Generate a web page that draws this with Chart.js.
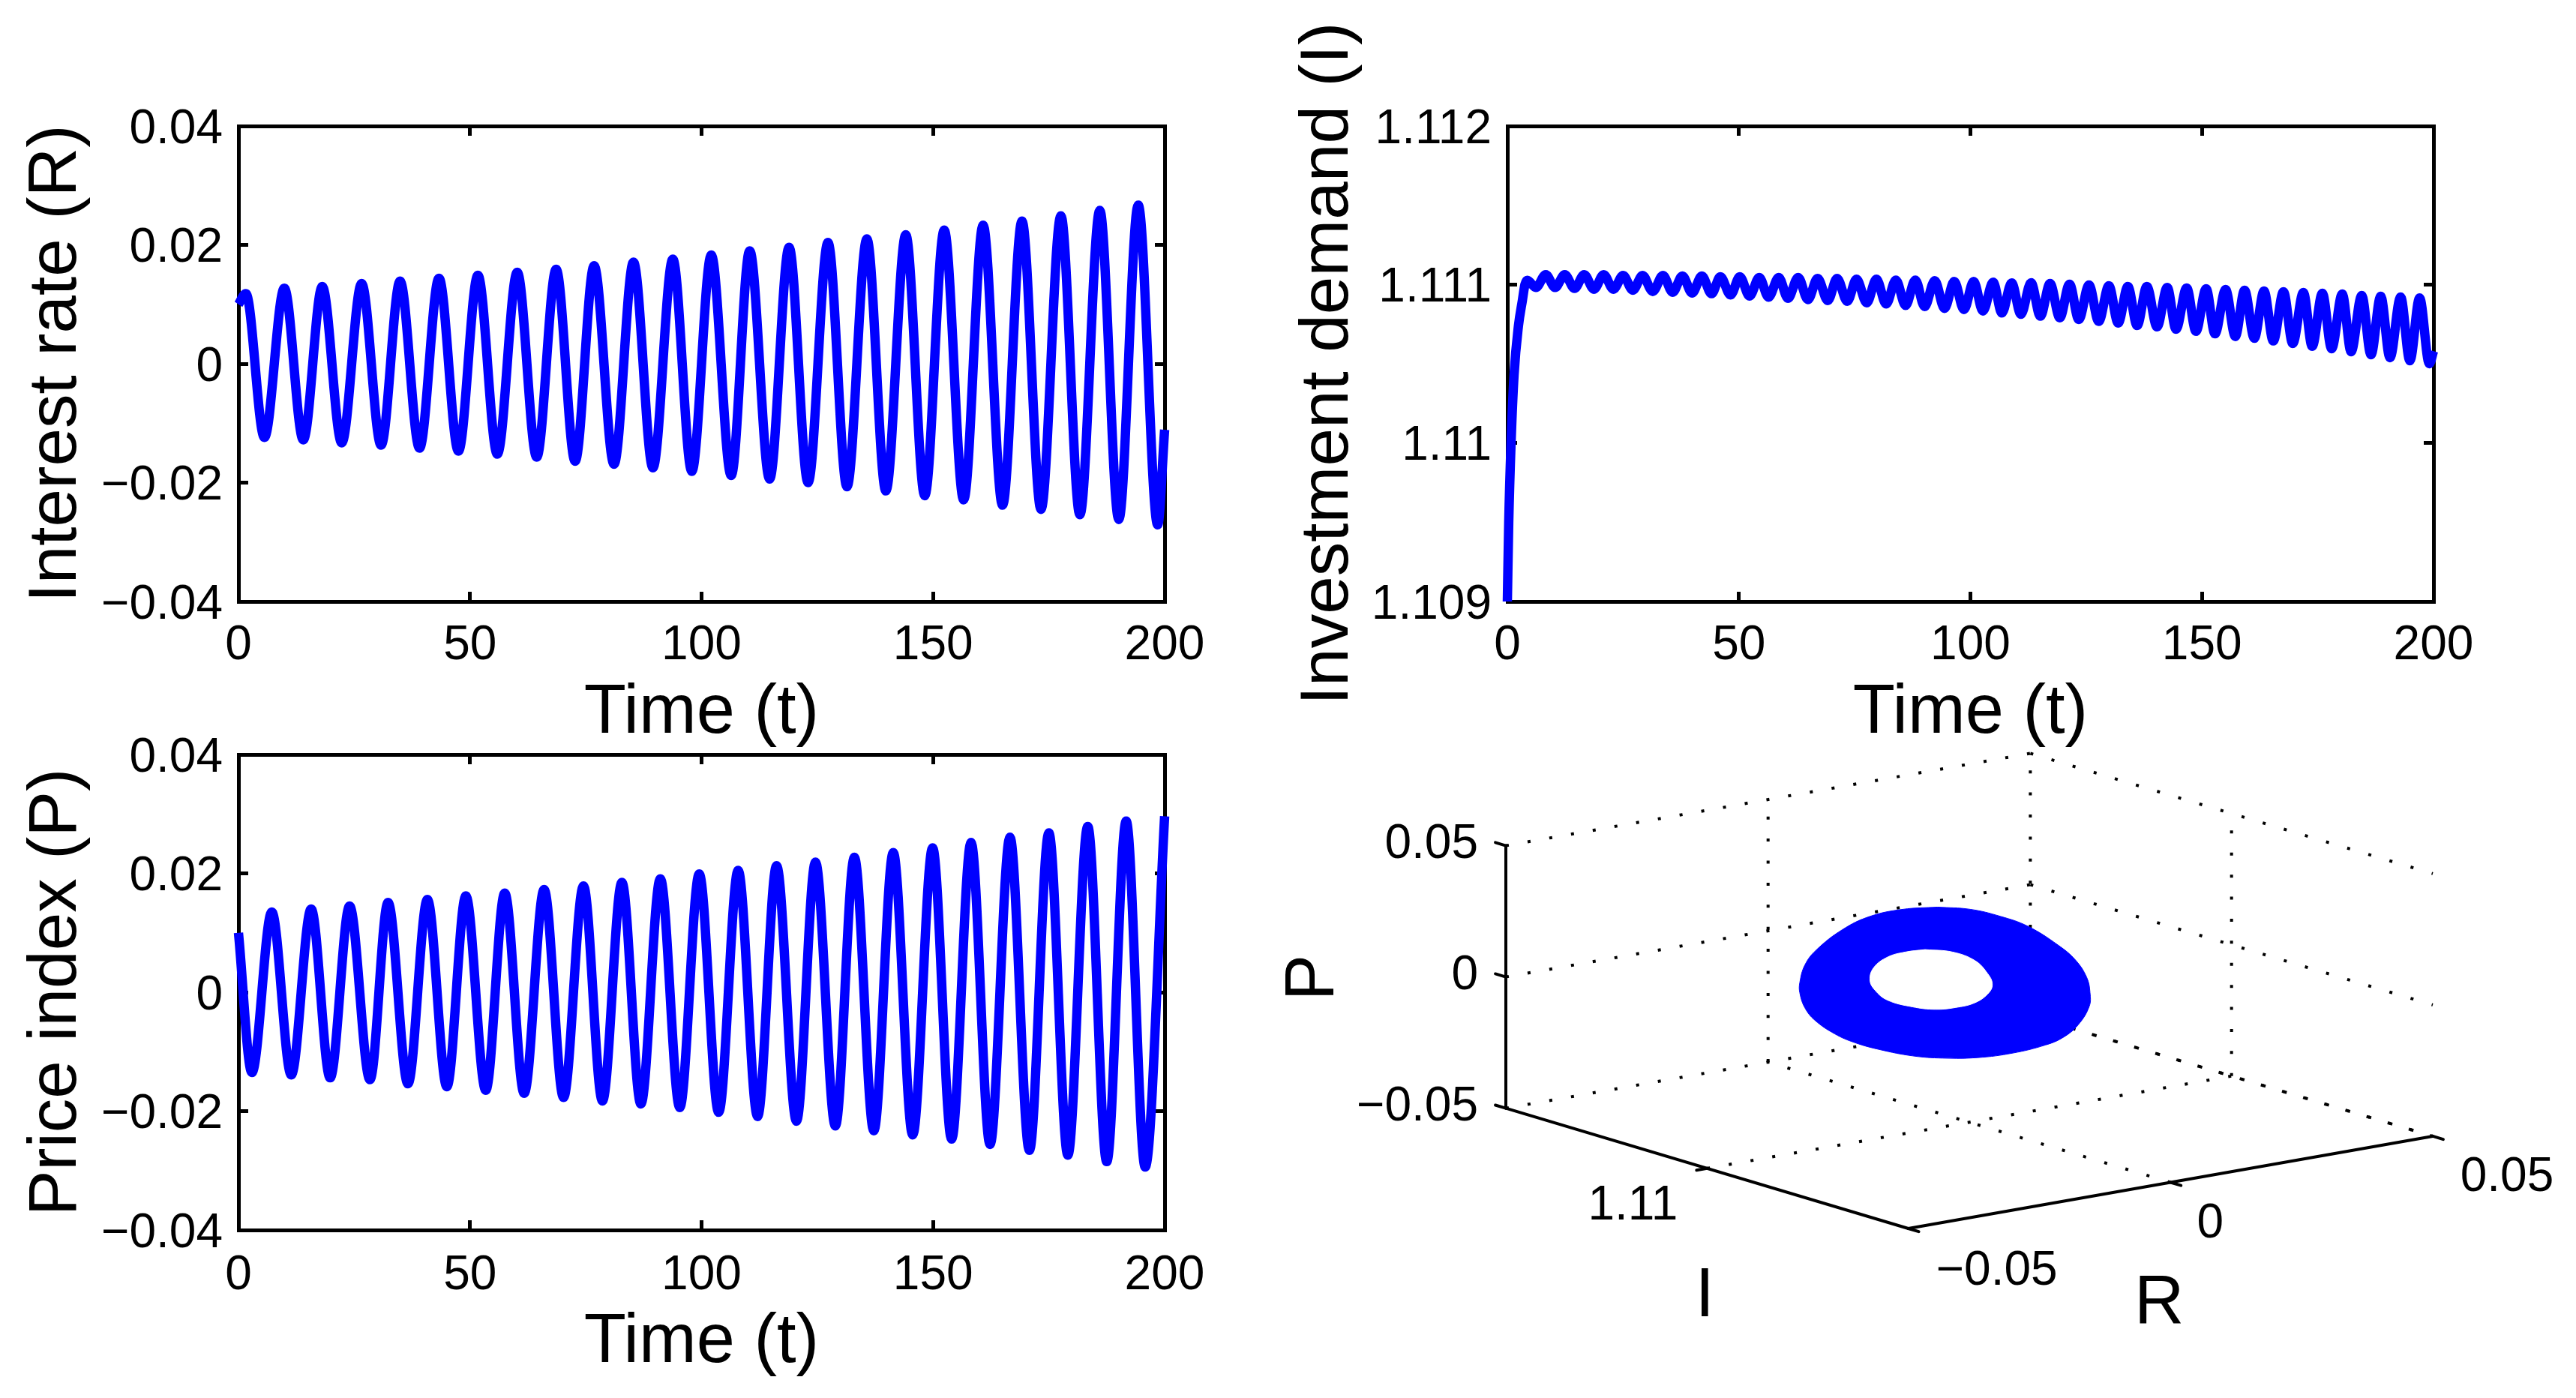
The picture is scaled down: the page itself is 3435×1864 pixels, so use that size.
<!DOCTYPE html>
<html>
<head>
<meta charset="utf-8">
<title>Macroeconomic model dynamics</title>
<script src="https://cdn.jsdelivr.net/npm/chart.js@4/dist/chart.umd.min.js"></script>
<style>
  html, body { margin: 0; padding: 0; background: #fff; }
  #page { position: relative; width: 3435px; height: 1864px; overflow: hidden; background: #fff; }
  #page canvas { position: absolute; left: 0; top: 0; }
</style>
</head>
<body>
<div id="page">
  <canvas id="rateChart" width="3435" height="1864"></canvas>
  <canvas id="investChart" width="3435" height="1864"></canvas>
  <canvas id="priceChart" width="3435" height="1864"></canvas>
  <canvas id="orbitChart" width="3435" height="1864"></canvas>
</div>
<script>
// Turning points of the interest rate R(t)
const rateTimes = [0,1.6,5.6,9.9,14.0,18.1,22.3,26.6,30.8,34.9,39.1,43.3,47.5,51.7,55.9,60.2,64.4,68.6,72.7,76.8,81.1,85.3,89.5,93.8,97.9,102.1,106.4,110.4,114.7,118.9,123.0,127.3,131.4,135.7,139.8,144.1,148.2,152.4,156.6,160.8,165.0,169.2,173.3,177.6,181.7,186.0,190.1,194.3,198.5,200];
const rateValues = [0.0100,0.0118,-0.0124,0.0127,-0.0128,0.0130,-0.0133,0.0135,-0.0137,0.0139,-0.0142,0.0144,-0.0147,0.0149,-0.0152,0.0154,-0.0157,0.0159,-0.0164,0.0165,-0.0169,0.0171,-0.0175,0.0176,-0.0181,0.0183,-0.0188,0.0190,-0.0194,0.0196,-0.0200,0.0204,-0.0207,0.0210,-0.0214,0.0217,-0.0222,0.0225,-0.0229,0.0233,-0.0238,0.0240,-0.0245,0.0249,-0.0254,0.0258,-0.0262,0.0267,-0.0271,-0.0111];

// Turning points of the price index P(t)
const priceTimes = [0,2.9,7.2,11.4,15.7,19.8,24.0,28.4,32.3,36.6,40.8,45.0,49.1,53.4,57.5,61.7,66.0,70.2,74.5,78.6,82.8,86.9,91.1,95.3,99.5,103.7,107.9,112.1,116.2,120.5,124.6,128.9,133.0,137.2,141.4,145.6,149.9,154.0,158.2,162.3,166.6,170.8,175.0,179.1,183.4,187.5,191.7,195.8,200];
const priceValues = [0.0100,-0.0135,0.0135,-0.0139,0.0140,-0.0144,0.0145,-0.0147,0.0151,-0.0154,0.0156,-0.0159,0.0162,-0.0165,0.0167,-0.0170,0.0173,-0.0177,0.0179,-0.0183,0.0185,-0.0188,0.0191,-0.0194,0.0199,-0.0202,0.0205,-0.0209,0.0213,-0.0217,0.0219,-0.0225,0.0227,-0.0233,0.0235,-0.0240,0.0243,-0.0247,0.0252,-0.0256,0.0261,-0.0266,0.0268,-0.0274,0.0279,-0.0285,0.0288,-0.0294,0.0296];

// Initial rise and turning points of the investment demand I(t)
const investTimes = [0,0.3,0.8,1.45,2.4,3.25,3.8,4.3,6.15,8.3,10.3,12.4,14.5,16.6,18.7,20.8,22.9,25.0,27.1,29.2,31.4,33.6,35.7,37.8,39.9,42.0,44.1,46.0,48.2,50.2,52.3,54.4,56.4,58.6,60.6,62.8,64.9,67.0,69.2,71.2,73.4,75.4,77.6,79.7,81.8,83.9,86.0,88.1,90.1,92.3,94.4,96.5,98.6,100.7,102.7,104.9,106.8,108.9,110.9,113.1,115.1,117.2,119.3,121.4,123.4,125.6,127.7,129.9,131.9,134.0,136.0,138.1,140.3,142.5,144.4,146.7,148.7,150.9,152.8,155.1,157.2,159.2,161.3,163.4,165.4,167.6,169.6,171.9,173.8,176.0,178.0,180.3,182.2,184.5,186.5,188.6,190.6,192.9,194.9,197.0,199.1,200];
const investValues = [1.10900,1.10950,1.11000,1.11043,1.11074,1.11090,1.11100,1.111027,1.110981,1.111062,1.110981,1.111062,1.110975,1.111062,1.110970,1.111062,1.110970,1.111057,1.110964,1.111057,1.110956,1.111057,1.110951,1.111054,1.110946,1.111054,1.110942,1.111049,1.110934,1.111049,1.110927,1.111044,1.110920,1.111044,1.110913,1.111044,1.110905,1.111038,1.110899,1.111038,1.110894,1.111033,1.110885,1.111033,1.110877,1.111028,1.110868,1.111028,1.110861,1.111024,1.110849,1.111019,1.110842,1.111019,1.110833,1.111014,1.110820,1.111010,1.110812,1.111011,1.110800,1.111006,1.110790,1.111002,1.110779,1.110997,1.110767,1.110992,1.110757,1.110987,1.110741,1.110987,1.110733,1.110981,1.110718,1.110978,1.110705,1.110973,1.110689,1.110968,1.110672,1.110964,1.110661,1.110959,1.110644,1.110954,1.110628,1.110950,1.110610,1.110945,1.110595,1.110940,1.110576,1.110931,1.110557,1.110926,1.110538,1.110921,1.110519,1.110915,1.110500,1.11058];

// Axis ticks of the time plots
const timeTicks = [0,50,100,150,200];
const timeTickLabels = ['0','50','100','150','200'];
const deviationTicks = [-0.04,-0.02,0,0.02,0.04];
const deviationTickLabels = ['\u22120.04','\u22120.02','0','0.02','0.04'];
const investTicks = [1.109,1.11,1.111,1.112];
const investTickLabels = ['1.109','1.11','1.111','1.112'];

// Edges of the attractor band in the (R, I, P) phase space
const orbitI = 1.111;
const bandOuterR = [-0.00124,0.00497,0.0107,0.01596,0.0217,0.02504,0.02719,0.02781,0.02767,0.02552,0.02265,0.01931,0.01309,0.0064,-0.00029,-0.00602,-0.01223,-0.01701,-0.02084,-0.02466,-0.02657,-0.02753,-0.02753,-0.02657,-0.02442,-0.0194,-0.01415,-0.00793,-0.00124];
const bandOuterP = [0.0295,0.02648,0.0218,0.01616,0.0070,0.0001,-0.0073,-0.01323,-0.01842,-0.02481,-0.02857,-0.03025,-0.03113,-0.0305,-0.02835,-0.02548,-0.02093,-0.01659,-0.01191,-0.00534,0.00009,0.00614,0.00995,0.01628,0.02124,0.0273,0.0305,0.031,0.0295];
const bandInnerR = [-0.00363,0.00162,0.00593,0.00832,0.00918,0.00855,0.00593,0.0021,-0.00172,-0.00602,-0.0108,-0.01319,-0.01415,-0.01343,-0.0108,-0.00746,-0.00363];
const bandInnerP = [0.01416,0.01137,0.00653,0.00074,-0.00337,-0.00649,-0.00938,-0.00994,-0.00927,-0.00681,-0.00257,0.00207,0.00622,0.01073,0.01381,0.01455,0.01416];

// Limits and ticks of the 3-D axes
const limitsR = [-0.05,0.05];
const limitsI = [1.102,1.118];
const limitsP = [-0.05,0.05];
const ticksR = [-0.05,0,0.05];
const ticksI = [1.11];
const ticksP = [-0.05,0,0.05];
const tickLabelsR = ['\u22120.05','0','0.05'];
const tickLabelsI = ['1.11'];
const tickLabelsP = ['\u22120.05','0','0.05'];

const PAGE_W = 3435, PAGE_H = 1864;
const BLUE = '#0000ff';
const FONT = '"Liberation Sans", Arial, sans-serif';
const TICK_SIZE = 64, TITLE_SIZE = 92, Y_TITLE_SIZE = 91;

const pairUp = (xs, ys) => xs.map((x, i) => ({ x, y: ys[i] }));

// One boxed time plot. The frame and inward tick marks come from four scales.
function timePlot(id, box, times, values, yTicks, yLabels, yTitle) {
  const setTicks = list => scale => { scale.ticks = list.map(value => ({ value })); };
  const grid = { drawOnChartArea: false, drawTicks: true, tickLength: -13, tickWidth: 5, tickColor: '#000' };
  const border = { display: true, width: 5, color: '#000' };
  const labelFont = { family: FONT, size: TICK_SIZE };
  const mirror = (position, min, max, list) => ({
    type: 'linear', position, min, max,
    afterBuildTicks: setTicks(list),
    afterFit: s => { if (s.isHorizontal()) s.height = 0; else s.width = 0; },
    grid, border, ticks: { display: false, autoSkip: false }
  });
  new Chart(document.getElementById(id), {
    type: 'scatter',
    data: { datasets: [{
      data: pairUp(times, values), showLine: true, pointRadius: 0,
      borderColor: BLUE, borderWidth: 12.5, borderCapStyle: 'butt', borderJoinStyle: 'round',
      cubicInterpolationMode: 'monotone', clip: false, fill: false
    }] },
    options: {
      responsive: false, animation: false, events: [],
      layout: { padding: { left: 0, top: box.top, right: PAGE_W - box.right, bottom: 0 } },
      plugins: { legend: { display: false }, tooltip: { enabled: false } },
      scales: {
        x: {
          type: 'linear', position: 'bottom', min: 0, max: 200,
          afterBuildTicks: setTicks(timeTicks),
          afterFit: s => { s.height = PAGE_H - box.bottom; },
          grid, border,
          ticks: { autoSkip: false, maxRotation: 0, padding: box.xTickPad, color: '#000', font: labelFont,
                   callback: (v, i) => timeTickLabels[i] },
          title: { display: true, text: 'Time (t)', color: '#000',
                   font: { family: FONT, size: TITLE_SIZE, lineHeight: 1 },
                   padding: { top: 0, bottom: PAGE_H - box.xTitleY - TITLE_SIZE / 2 } }
        },
        y: {
          type: 'linear', position: 'left', min: yTicks[0], max: yTicks[yTicks.length - 1],
          afterBuildTicks: setTicks(yTicks),
          afterFit: s => { s.width = box.left; },
          grid, border,
          ticks: { autoSkip: false, padding: 34, labelOffset: 5, color: '#000', font: labelFont,
                   callback: (v, i) => yLabels[i] },
          title: { display: true, text: yTitle, color: '#000',
                   font: { family: FONT, size: Y_TITLE_SIZE, lineHeight: 1 },
                   padding: { top: box.yTitleX - Y_TITLE_SIZE / 2, bottom: 0 } }
        },
        xTop: mirror('top', 0, 200, timeTicks),
        yRight: mirror('right', yTicks[0], yTicks[yTicks.length - 1], yTicks)
      }
    }
  });
}

timePlot('rateChart',
  { left: 318, right: 1553, top: 168, bottom: 802, xTickPad: 34, xTitleY: 952, yTitleX: 76 },
  rateTimes, rateValues, deviationTicks, deviationTickLabels, 'Interest rate (R)');
timePlot('investChart',
  { left: 2010, right: 3245, top: 168, bottom: 802, xTickPad: 34, xTitleY: 952, yTitleX: 1772 },
  investTimes, investValues, investTicks, investTickLabels, 'Investment demand (I)');
timePlot('priceChart',
  { left: 318, right: 1553, top: 1006, bottom: 1640, xTickPad: 36, xTitleY: 1791, yTitleX: 76 },
  priceTimes, priceValues, deviationTicks, deviationTickLabels, 'Price index (P)');

// Default 3-D view: data are normalised to the unit cube, then rotated.
const AZ = -37.5 * Math.PI / 180, EL = 30 * Math.PI / 180;
const unit = (v, lim) => (v - lim[0]) / (lim[1] - lim[0]);
function project(uR, uI, uP) {
  return {
    x: Math.cos(AZ) * uR + Math.sin(AZ) * uI,
    y: Math.sin(EL) * (-Math.sin(AZ) * uR + Math.cos(AZ) * uI) + Math.cos(EL) * uP
  };
}
const dataPoint = (R, I, P) => project(unit(R, limitsR), unit(I, limitsI), unit(P, limitsP));
const band = (Rs, Ps) => Rs.map((R, i) => dataPoint(R, orbitI, Ps[i]));

const dotted = (a, b) => ({
  data: [project(...a), project(...b)], showLine: true, pointRadius: 0, clip: false,
  borderColor: '#000', borderWidth: 4, borderDash: [4, 25.4], order: 3, fill: false
});
const solid = (a, b) => ({
  data: [project(...a), project(...b)], showLine: true, pointRadius: 0, clip: false,
  borderColor: '#000', borderWidth: 4, borderCapStyle: 'round', order: 0, fill: false
});

const datasets3d = [];
// Grid on the two back walls and the floor
ticksP.forEach(P => {
  const u = unit(P, limitsP);
  datasets3d.push(dotted([0, 1, u], [1, 1, u]), dotted([1, 1, u], [1, 0, u]));
});
ticksR.slice(1).forEach(R => {
  const u = unit(R, limitsR);
  datasets3d.push(dotted([u, 0, 0], [u, 1, 0]));
  datasets3d.push(dotted([u, 1, 0], [u, 1, 1]));
});
ticksI.forEach(I => {
  const u = unit(I, limitsI);
  datasets3d.push(dotted([0, u, 0], [1, u, 0]), dotted([1, u, 0], [1, u, 1]));
});
// Filled band with its central hole
datasets3d.push({
  data: band(bandOuterR, bandOuterP), showLine: true, pointRadius: 0, tension: 0.4,
  borderColor: BLUE, borderWidth: 1, backgroundColor: BLUE, fill: 'shape', order: 2
});
datasets3d.push({
  data: band(bandInnerR, bandInnerP), showLine: true, pointRadius: 0, tension: 0.4,
  borderColor: '#fff', borderWidth: 1, backgroundColor: '#fff', fill: 'shape', order: 1
});
// Solid axes and their tick marks
datasets3d.push(solid([0, 1, 0], [0, 1, 1]), solid([0, 1, 0], [0, 0, 0]), solid([0, 0, 0], [1, 0, 0]));
ticksP.forEach(P => {
  const u = unit(P, limitsP);
  datasets3d.push(solid([0, 1, u], [0, 1.026, u]));
});
ticksR.forEach(R => {
  const u = unit(R, limitsR);
  datasets3d.push(solid([u, 0, 0], [u, -0.026, 0]));
});
ticksI.forEach(I => {
  const u = unit(I, limitsI);
  datasets3d.push(solid([0, u, 0], [-0.02, u, 0]));
});

// Tick labels and axis letters sit at fixed offsets from the projected axes.
const axisText3d = {
  id: 'axisText3d',
  afterDraw(chart) {
    const { ctx, scales } = chart;
    const at = (u, dx, dy) => {
      const p = project(...u);
      return [scales.x.getPixelForValue(p.x) + dx, scales.y.getPixelForValue(p.y) + dy];
    };
    const write = (text, pos, size, align, rotate) => {
      ctx.save();
      ctx.fillStyle = '#000';
      ctx.font = size + 'px ' + FONT;
      ctx.textAlign = align;
      ctx.textBaseline = 'middle';
      ctx.translate(pos[0], pos[1]);
      if (rotate) ctx.rotate(-Math.PI / 2);
      ctx.fillText(text, 0, 0);
      ctx.restore();
    };
    ticksP.forEach((P, i) => write(tickLabelsP[i], at([0, 1, unit(P, limitsP)], -37, -1), TICK_SIZE, 'right'));
    const rOffsets = [[118, 57], [53, 56], [99, 55]];
    ticksR.forEach((R, i) => write(tickLabelsR[i], at([unit(R, limitsR), 0, 0], ...rOffsets[i]), TICK_SIZE, 'center'));
    ticksI.forEach((I, i) => write(tickLabelsI[i], at([0, unit(I, limitsI), 0], -99, 51), TICK_SIZE, 'center'));
    write('P', at([0, 1, 0.5], -255, 1), TITLE_SIZE, 'center', true);
    write('I', at([0, 0.5, 0], -3, 172), TITLE_SIZE, 'center');
    write('R', at([0.5, 0, 0], -15, 163), TITLE_SIZE, 'center');
  }
};

new Chart(document.getElementById('orbitChart'), {
  type: 'scatter',
  data: { datasets: datasets3d },
  plugins: [axisText3d],
  options: {
    responsive: false, animation: false, events: [],
    layout: { padding: { left: 2008, top: 1004.5, right: PAGE_W - 3244, bottom: PAGE_H - 1638 } },
    plugins: { legend: { display: false }, tooltip: { enabled: false } },
    scales: {
      x: { type: 'linear', display: false, min: project(0, 1, 0).x, max: project(1, 0, 0).x },
      y: { type: 'linear', display: false, min: project(0, 0, 0).y, max: project(1, 1, 1).y }
    }
  }
});
</script>
</body>
</html>
